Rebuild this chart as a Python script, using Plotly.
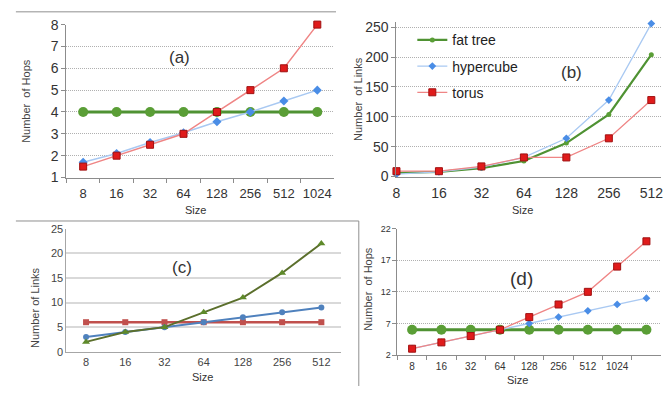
import plotly.graph_objects as go

# ---------------- data ----------------
sizes_a = ["8", "16", "32", "64", "128", "256", "512", "1024"]
hops_fat_a = [4, 4, 4, 4, 4, 4, 4, 4]
hops_hyper_a = [1.7, 2.1, 2.6, 3.05, 3.55, 4.0, 4.5, 5.0]
hops_torus_a = [1.5, 2, 2.5, 3, 4, 5, 6, 8]

sizes_b = ["8", "16", "32", "64", "128", "256", "512"]
links_fat_b = [6, 8, 14, 26, 56, 104, 204]
links_hyper_b = [4, 8, 16, 32, 64, 128, 256]
links_torus_b = [9, 9, 17, 32, 32, 64, 128]

sizes_c = ["8", "16", "32", "64", "128", "256", "512"]
links_fat_c = [2, 4, 5, 8, 11, 16, 22]
links_hyper_c = [3, 4, 5, 6, 7, 8, 9]
links_torus_c = [6, 6, 6, 6, 6, 6, 6]

sizes_d = ["8", "16", "32", "64", "128", "256", "512", "1024", "2048"]
labels_d = ["8", "16", "32", "64", "128", "256", "512", "1024", ""]
hops_fat_d = [6, 6, 6, 6, 6, 6, 6, 6, 6]
hops_hyper_d = [3, 4, 5, 6, 7, 8, 9, 10, 11]
hops_torus_d = [3, 4, 5, 6, 8, 10, 12, 16, 20]

series_names = ["fat tree", "hypercube", "torus"]

# ---------------- helpers ----------------
W, H = 672, 394
FONT = "Liberation Sans, Arial, sans-serif"


def px(x):
    return x / W


def py(y):
    return 1 - y / H


GREEN = "#4f9233"
GREEN_M = "#5a9e36"
RED_L = "#ef8585"
RED_M = "#e01b1b"
BLUE_L = "#a9c9f2"
BLUE_M = "#4a8de6"

C_RED = "#c0504d"
C_BLUE = "#4f81bd"
C_GREEN = "#5b6f2c"

fig = go.Figure()


def add(x, y, xa, ya, name, line, marker, legend=False, group=None):
    fig.add_trace(go.Scatter(x=x, y=y, xaxis=xa, yaxis=ya, mode="lines+markers", line=line,
                             marker=marker, showlegend=legend, name=name, legendgroup=group,
                             cliponaxis=False))


# ---- panel (a) ----
add(sizes_a, hops_fat_a, "x", "y", series_names[0], dict(color=GREEN, width=3.2),
    dict(symbol="circle", size=10, color=GREEN_M))
add(sizes_a, hops_hyper_a, "x", "y", series_names[1], dict(color=BLUE_L, width=1.5),
    dict(symbol="diamond", size=7, color=BLUE_M))
add(sizes_a, hops_torus_a, "x", "y", series_names[2], dict(color=RED_L, width=1.5),
    dict(symbol="square", size=7, color=RED_M, line=dict(color="#a01010", width=1)))

# ---- panel (b) ----
add(sizes_b, links_fat_b, "x2", "y2", series_names[0], dict(color=GREEN, width=2.2),
    dict(symbol="circle", size=5, color=GREEN_M), True, "g1")
add(sizes_b, links_hyper_b, "x2", "y2", series_names[1], dict(color=BLUE_L, width=1.3),
    dict(symbol="diamond", size=6, color=BLUE_M), True, "g2")
add(sizes_b, links_torus_b, "x2", "y2", series_names[2], dict(color=RED_L, width=1.3),
    dict(symbol="square", size=7, color=RED_M, line=dict(color="#a01010", width=1)), True, "g3")

# ---- panel (c) ----
add(sizes_c, links_torus_c, "x3", "y3", series_names[2], dict(color=C_RED, width=2.5),
    dict(symbol="square", size=6, color=C_RED))
add(sizes_c, links_hyper_c, "x3", "y3", series_names[1], dict(color=C_BLUE, width=2),
    dict(symbol="circle", size=6, color=C_BLUE))
add(sizes_c, links_fat_c, "x3", "y3", series_names[0], dict(color=C_GREEN, width=2),
    dict(symbol="triangle-up", size=7, color="#5e8a2a"))

# ---- panel (d) ----
add(sizes_d, hops_fat_d, "x4", "y4", series_names[0], dict(color=GREEN, width=3.2),
    dict(symbol="circle", size=10, color=GREEN_M))
add(sizes_d, hops_hyper_d, "x4", "y4", series_names[1], dict(color=BLUE_L, width=1.3),
    dict(symbol="diamond", size=6, color=BLUE_M))
add(sizes_d, hops_torus_d, "x4", "y4", series_names[2], dict(color=RED_L, width=1.3),
    dict(symbol="square", size=7, color=RED_M, line=dict(color="#a01010", width=1)))

AX = "#8c8c8c"
GRID = "#b0b0b0"
DOT = "1px,1px"

common_x = dict(type="category", showline=True, linecolor=AX, linewidth=1, showgrid=False,
                zeroline=False, ticks="outside", ticklen=4, tickcolor=AX, fixedrange=True,
                tickangle=0)
common_y = dict(showline=True, linecolor=AX, linewidth=1, showgrid=True, gridcolor=GRID,
                zeroline=False, ticks="outside", ticklen=4, tickcolor=AX, fixedrange=True)

fig.update_layout(
    width=W, height=H, margin=dict(l=0, r=0, t=0, b=0),
    paper_bgcolor="white", plot_bgcolor="white",
    font=dict(family=FONT, color="#333333"),
    xaxis=dict(common_x, domain=[px(63), px(333)], range=[-0.5, 7.5], tickson="boundaries",
               anchor="y", ticklabelstandoff=4, tickfont=dict(size=13, color="#333")),
    yaxis=dict(common_y, domain=[py(176.7), py(17.3)], range=[1, 8], dtick=1, anchor="x",
               griddash=DOT, gridwidth=1.2, tickfont=dict(size=14, color="#333")),
    xaxis2=dict(common_x, domain=[px(396), px(663)], range=[0, 6.23], ticks="", anchor="y2",
                ticklabelstandoff=4, tickfont=dict(size=14, color="#333")),
    yaxis2=dict(common_y, domain=[py(175.7), py(15)], range=[0, 258], dtick=50, anchor="x2",
                griddash=DOT, gridwidth=1.2, tickfont=dict(size=14, color="#333")),
    xaxis3=dict(common_x, domain=[px(63), px(340)], range=[-0.5, 6.5], ticks="", anchor="y3",
                linecolor="#a6a6a6", tickfont=dict(size=11, color="#444")),
    yaxis3=dict(common_y, domain=[py(358.3), py(230)], range=[0, 25], dtick=5, anchor="x3",
                ticks="", gridcolor="#d9d9d9", gridwidth=1.5, linecolor="#a6a6a6",
                tickfont=dict(size=11, color="#444")),
    xaxis4=dict(common_x, domain=[px(397), px(663)], range=[-0.5, 8.5], tickson="boundaries",
                tickmode="array", tickvals=sizes_d, ticktext=labels_d, anchor="y4",
                ticklabelstandoff=2, tickfont=dict(size=10, color="#333")),
    yaxis4=dict(common_y, domain=[py(361.7), py(230)], range=[2, 22], tickmode="array",
                tickvals=[2, 7, 12, 17, 22], anchor="x4", griddash=DOT, gridwidth=1.2,
                tickfont=dict(size=9, color="#333")),
    legend=dict(x=px(412), y=py(17), xanchor="left", yanchor="top", bgcolor="rgba(0,0,0,0)",
                font=dict(size=14, color="#222"), tracegroupgap=5, itemwidth=30),
)

annots = [
    dict(text="(a)", x=px(177), y=py(52), size=17),
    dict(text="(b)", x=px(573), y=py(67), size=17),
    dict(text="(c)", x=px(180), y=py(270), size=17),
    dict(text="(d)", x=px(522), y=py(282), size=19),
    dict(text="Size", x=px(193), y=py(211), size=11),
    dict(text="Size", x=px(523), y=py(211), size=11),
    dict(text="Size", x=px(200), y=py(385), size=11),
    dict(text="Size", x=px(518), y=py(388), size=11),
]
for a in annots:
    fig.add_annotation(text=a["text"], x=a["x"], y=a["y"], xref="paper", yref="paper",
                       showarrow=False, font=dict(size=a["size"], color="#333"),
                       xanchor="center", yanchor="middle")

ytitles = [
    dict(text="Number  of Hops", x=px(22), y=py(97)),
    dict(text="Number  of Links", x=px(357), y=py(95)),
    dict(text="Number of Links", x=px(32), y=py(312)),
    dict(text="Number  of Hops", x=px(367), y=py(293)),
]
for t in ytitles:
    fig.add_annotation(text=t["text"], x=t["x"], y=t["y"], xref="paper", yref="paper",
                       showarrow=False, textangle=-90, font=dict(size=11, color="#444"),
                       xanchor="center", yanchor="middle")

# frame lines around the composed panels
LINE = dict(color="#8f8f8f", width=1)
fig.add_shape(type="line", xref="paper", yref="paper", x0=px(12), x1=px(335), y0=py(4), y1=py(4), line=LINE)
fig.add_shape(type="line", xref="paper", yref="paper", x0=px(12), x1=px(358), y0=py(222), y1=py(222), line=LINE)
fig.add_shape(type="line", xref="paper", yref="paper", x0=px(358), x1=px(358), y0=py(222), y1=py(394), line=LINE)

fig.write_html("out.html")
